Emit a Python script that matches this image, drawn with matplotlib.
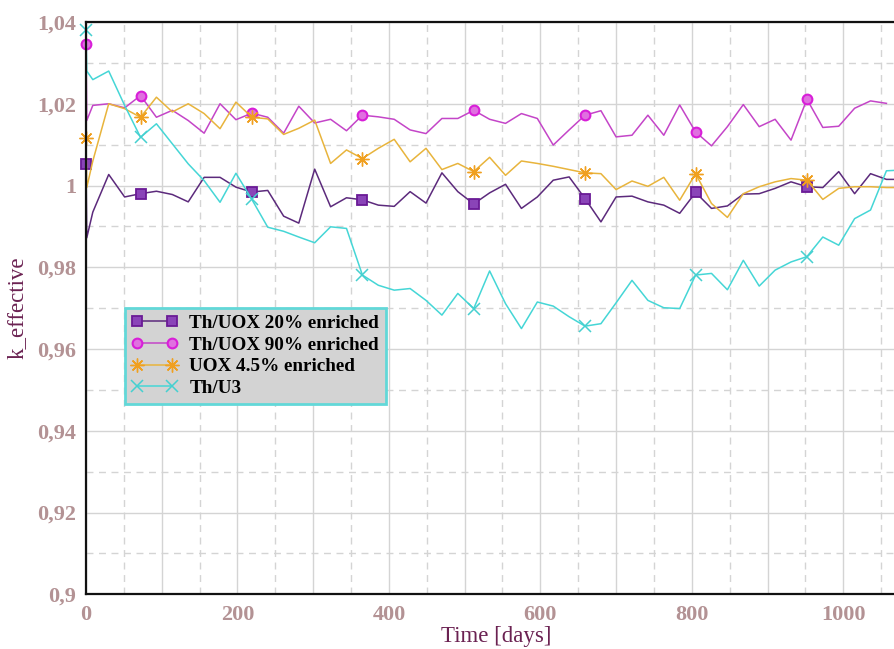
import matplotlib
matplotlib.use("Agg")
import matplotlib.pyplot as plt
from matplotlib.ticker import MultipleLocator, FuncFormatter

# burnup steps (days)
days = [0, 1, 9, 30, 51, 72, 93, 114, 135, 156, 177, 198, 219, 240, 261, 281,
        302, 323, 344, 365, 386, 407, 428, 449, 470, 491, 512, 533, 554, 575,
        596, 617, 638, 659, 680, 700, 721, 742, 763, 784, 805, 826, 847, 868,
        889, 910, 931, 952, 973, 994, 1015, 1036, 1057, 1078]

th_uox20 = [1.0053, 0.9872, 0.9935, 1.0027, 0.9972, 0.9980, 0.9986, 0.9978,
            0.9960, 1.0020, 1.0020, 0.9996, 0.9984, 0.9988, 0.9925, 0.9908,
            1.0040, 0.9948, 0.9970, 0.9965, 0.9952, 0.9949, 0.9985, 0.9957,
            1.0031, 0.9985, 0.9955, 0.9982, 1.0003, 0.9944, 0.9972, 1.0013,
            1.0021, 0.9968, 0.9911, 0.9972, 0.9974, 0.9960, 0.9952, 0.9932,
            0.9983, 0.9944, 0.9950, 0.9979, 0.9980, 0.9993, 1.0009, 0.9997,
            0.9995, 1.0034, 0.9980, 1.0029, 1.0015, 1.0015]

th_uox90 = [1.0345, 1.0159, 1.0196, 1.0200, 1.0190, 1.0220, 1.0167, 1.0184,
            1.0159, 1.0128, 1.0200, 1.0161, 1.0177, 1.0167, 1.0128, 1.0194,
            1.0153, 1.0162, 1.0134, 1.0172, 1.0168, 1.0162, 1.0136, 1.0127,
            1.0164, 1.0164, 1.0184, 1.0162, 1.0152, 1.0176, 1.0164, 1.0099,
            1.0136, 1.0172, 1.0183, 1.0119, 1.0123, 1.0172, 1.0123, 1.0197,
            1.0131, 1.0097, 1.0144, 1.0198, 1.0144, 1.0162, 1.0111, 1.0211,
            1.0142, 1.0145, 1.0189, 1.0207, 1.0201]

uox45 = [1.0117, 0.9995, 1.0060, 1.0200, 1.0188, 1.0167, 1.0216, 1.0180,
         1.0200, 1.0176, 1.0139, 1.0204, 1.0167, 1.0163, 1.0125, 1.0140,
         1.0160, 1.0054, 1.0087, 1.0066, 1.0091, 1.0113, 1.0058, 1.0091,
         1.0039, 1.0054, 1.0034, 1.0069, 1.0025, 1.0060, 1.0054, 1.0047,
         1.0039, 1.0031, 1.0029, 0.9990, 1.0011, 0.9998, 1.0020, 0.9964,
         1.0029, 0.9956, 0.9922, 0.9980, 0.9997, 1.0009, 1.0017, 1.0013,
         0.9966, 0.9993, 0.9997, 0.9997, 0.9995, 0.9995]

th_u3 = [1.0380, 1.0280, 1.0259, 1.0280, 1.0196, 1.0118, 1.0151, 1.0102,
         1.0053, 1.0012, 0.9959, 1.0030, 0.9966, 0.9898, 0.9888, 0.9874,
         0.9860, 0.9899, 0.9895, 0.9781, 0.9756, 0.9744, 0.9748, 0.9719,
         0.9683, 0.9736, 0.9699, 0.9791, 0.9711, 0.9650, 0.9715, 0.9705,
         0.9679, 0.9656, 0.9662, 0.9713, 0.9768, 0.9719, 0.9701, 0.9699,
         0.9781, 0.9785, 0.9745, 0.9817, 0.9754, 0.9793, 0.9813, 0.9826,
         0.9874, 0.9854, 0.9919, 0.9940, 1.0036, 1.0038]

labels = ["Th/UOX 20% enriched", "Th/UOX 90% enriched", "UOX 4.5% enriched", "Th/U3"]
marker_idx = [0, 5, 12, 19, 26, 33, 40, 47]

serif = ["Liberation Serif", "DejaVu Serif"]
tick_col = "#b39294"
lab_col = "#6b2252"

fig = plt.figure(figsize=(8.94, 6.49), dpi=100)
ax = fig.add_axes([86 / 894, 1 - 594.3 / 649, 1 - 86 / 894, (594.3 - 22) / 649])

ax.plot(days, th_uox20, color="#5c2a7c", lw=1.1, marker="s", ms=7,
        mfc="#8a44b8", mec="#6a1a96", mew=1.3, markevery=marker_idx,
        clip_on=False, label=labels[0])
ax.plot(days[:len(th_uox90)], th_uox90, color="#c445c8", lw=1.1, marker="o", ms=7,
        mfc="#e070e0", mec="#d81ed8", mew=1.5, markevery=marker_idx,
        clip_on=False, label=labels[1])
ax.plot(days, uox45, color="#e8b43c", lw=1.1, marker=(8, 2, 0), ms=10,
        mec="#f0a020", mew=1.0, markevery=marker_idx,
        clip_on=False, label=labels[2])
ax.plot(days, th_u3, color="#45d6d6", lw=1.1, marker="x", ms=9,
        mec="#45d0d0", mew=1.1, markevery=marker_idx,
        clip_on=False, label=labels[3])

ax.set_xlim(0, 1067)
ax.set_ylim(0.9, 1.04)

ax.xaxis.set_major_locator(MultipleLocator(100))
ax.xaxis.set_minor_locator(MultipleLocator(50))
ax.yaxis.set_major_locator(MultipleLocator(0.02))
ax.yaxis.set_minor_locator(MultipleLocator(0.01))
ax.xaxis.set_major_formatter(FuncFormatter(lambda v, p: "%d" % v if round(v) % 200 == 0 else ""))
ax.yaxis.set_major_formatter(FuncFormatter(lambda v, p: ("%g" % round(v, 4)).replace(".", ",")))

ax.grid(True, which="major", color="#d4d4d4", lw=1.0, ls="-")
ax.grid(True, which="minor", color="#d4d4d4", lw=1.0, ls=(0, (5, 4)))
ax.set_axisbelow(True)
ax.tick_params(which="both", length=0)
ax.tick_params(axis="x", pad=8)
ax.tick_params(axis="y", pad=7)
for t in ax.get_xticklabels() + ax.get_yticklabels():
    t.set_family(serif)
    t.set_fontweight("bold")
    t.set_fontsize(16)
    t.set_color(tick_col)

for s in ["left", "bottom", "top"]:
    ax.spines[s].set_linewidth(1.6)
    ax.spines[s].set_color("#111111")
ax.spines["right"].set_visible(False)

ax.set_xlabel("Time [days]", family=serif, fontsize=16.5, color=lab_col)
ax.xaxis.set_label_coords((496 - 86) / 808, -0.056)
ax.set_ylabel("k_effective", family=serif, fontsize=16.5, color=lab_col)
ax.yaxis.set_label_coords(-0.072, 0.5)

leg = ax.legend(loc="upper left", bbox_to_anchor=((125 - 86) / 808, (594.3 - 308) / 572.3),
                borderaxespad=0, numpoints=2, handlelength=2.4, handletextpad=0.6,
                labelspacing=0.22, borderpad=0.35, fancybox=False, framealpha=1,
                prop={"family": serif, "weight": "bold", "size": 13.8})
leg.get_frame().set_facecolor("#d3d3d3")
leg.get_frame().set_edgecolor("#62d8d8")
leg.get_frame().set_linewidth(2)

fig.savefig("out.png", dpi=100)
